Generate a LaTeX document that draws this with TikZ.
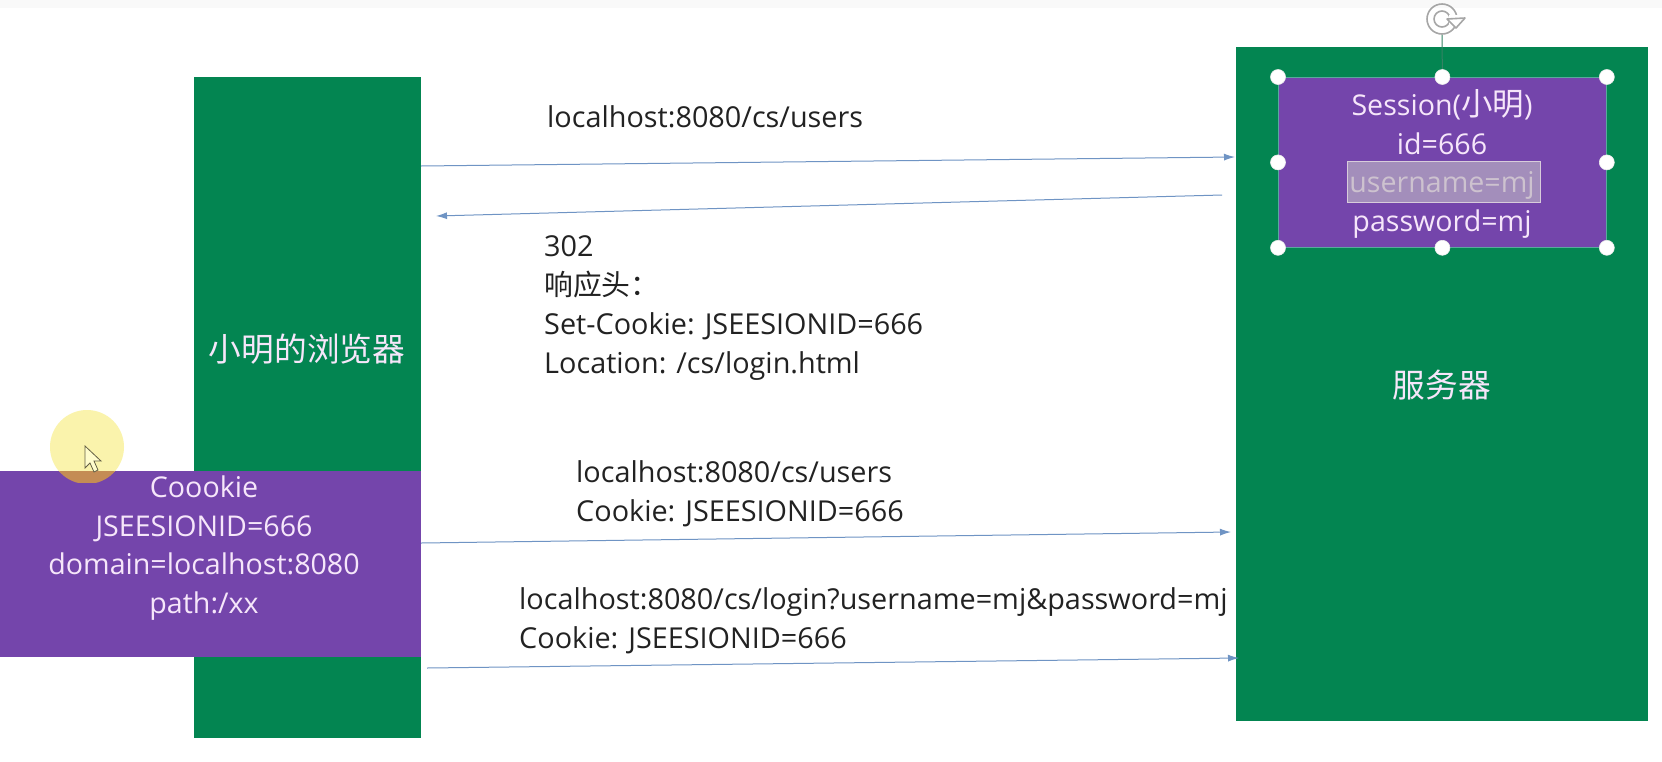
\documentclass[tikz,border=0pt]{standalone}
\usepackage{fontspec}
\setmainfont{Open Sans}
\newfontfamily\cjk{Noto Sans CJK SC}
\usetikzlibrary{arrows.meta}
\definecolor{grn}{HTML}{038551}
\definecolor{pur}{HTML}{7445AB}
\definecolor{arr}{HTML}{6F94C4}
\definecolor{lbl}{HTML}{F6E6FA}
\definecolor{txt}{HTML}{222222}
\definecolor{glow}{HTML}{FAF3AC}
\definecolor{glowlow}{HTML}{C48C55}
\tikzset{
  x=1pt,y=-1pt,
  greenbox/.style={fill=grn,anchor=north west,inner sep=0pt},
  purplebox/.style={fill=pur,anchor=north west,inner sep=0pt},
  boxtext/.style={text=lbl,align=center,font=\fontsize{28.6}{38.8}\selectfont,inner sep=0pt},
  bigtext/.style={text=lbl,font=\fontsize{32.7}{38}\selectfont\cjk,inner sep=0pt},
  msg/.style={text=txt,align=left,anchor=north west,font=\fontsize{28.8}{39}\selectfont,inner sep=0pt},
  flow/.style={draw=arr,line width=1pt,-{Latex[length=11pt,width=7pt]}},
  handle/.style={circle,fill=white,draw=white!85!gray,line width=.6pt,minimum size=15pt,inner sep=0pt},
}
\begin{document}
\begin{tikzpicture}
\useasboundingbox (0,0) rectangle (1662,761);
\fill[white] (0,0) rectangle (1662,761);
\fill[gray!5] (0,0) rectangle (1662,8);
% main boxes
\node[greenbox,minimum width=227pt,minimum height=661pt] (browser) at (194,77) {};
\node[greenbox,minimum width=412pt,minimum height=674pt] (server) at (1236,47) {};
\node[bigtext] (browserlabel) at (307,349) {小明的浏览器};
\node[bigtext] (serverlabel) at (1442,385) {服务器};
% cookie
\node[purplebox,minimum width=421pt,minimum height=186pt] (cookie) at (0,471) {};
\node[boxtext] (cookietext) at (204,548) {Coookie\\JSEESIONID=666\\domain=localhost:8080\\path:/xx};
% session
\node[purplebox,draw=arr!80!green,line width=.8pt,minimum width=328pt,minimum height=170pt] (session) at (1278,77) {};
\node[draw=lbl!75!gray,fill=white!42!pur!75!gray,line width=1.5pt,minimum width=193pt,minimum height=41pt,inner sep=0pt] (selection) at (1444,182) {};
\node[boxtext] (sessiontext) at (1442,164) {Session({\cjk\fontsize{31.5}{38.8}\selectfont 小明})\\id=666\\\textcolor{lbl!65!gray}{username=mj}\\password=mj};
% rotate handle
\coordinate (rotbase) at (1442,35);
\draw[grn!60!gray,line width=1pt] (rotbase) -- (session.north);
\draw[gray!70,line width=1.6pt] (1442,19) circle[radius=15pt];
\draw[gray!70,line width=1.6pt] (1442,19) circle[radius=8pt];
\fill[white] (1449,15) rectangle (1461,24);
\draw[gray!70,fill=white,line width=1.6pt,line join=round] (1447,19) -- (1465,18) -- (1456,28) -- cycle;
% handles
\foreach \a/\n in {north west/a,north/b,north east/c,west/d,east/e,south west/f,south/g,south east/h}
  \node[handle] (handle\n) at (session.\a) {};
% arrows
\coordinate (a1s) at (421,166); \coordinate (a1e) at (1235,157);
\coordinate (a2s) at (1222,195); \coordinate (a2e) at (436,216);
\coordinate (a3s) at (421,543); \coordinate (a3e) at (1231,532);
\coordinate (a4s) at (427,668); \coordinate (a4e) at (1239,658);
\draw[flow] (a1s) -- (a1e);
\draw[flow] (a2s) -- (a2e);
\draw[flow] (a3s) -- (a3e);
\draw[flow] (a4s) -- (a4e);
% labels
\node[msg] (m1) at (547,105) {localhost:8080/cs/users};
\node[msg] (m2) at (544,235) {302\\{\cjk 响应头：}\\Set-Cookie: JSEESIONID=666\\Location: /cs/login.html};
\node[msg] (m3) at (576,460) {localhost:8080/cs/users\\Cookie: JSEESIONID=666};
\node[msg] (m4) at (519,587) {localhost:8080/cs/login?username=mj\&password=mj\\Cookie: JSEESIONID=666};
% cursor highlight
\begin{scope}
\clip (0,0) rectangle (1662,471);
\fill[glow] (87,447) circle[radius=37pt];
\end{scope}
\begin{scope}
\clip (0,471) rectangle (1662,482);
\fill[glowlow] (87,447) circle[radius=37pt];
\end{scope}
\draw[black!70!yellow,fill=white!80!yellow,line width=.8pt] (85,446) -- (85,468) -- (90,463) -- (94,472) -- (98,470) -- (94,461) -- (101,461) -- cycle;
\end{tikzpicture}
\end{document}
